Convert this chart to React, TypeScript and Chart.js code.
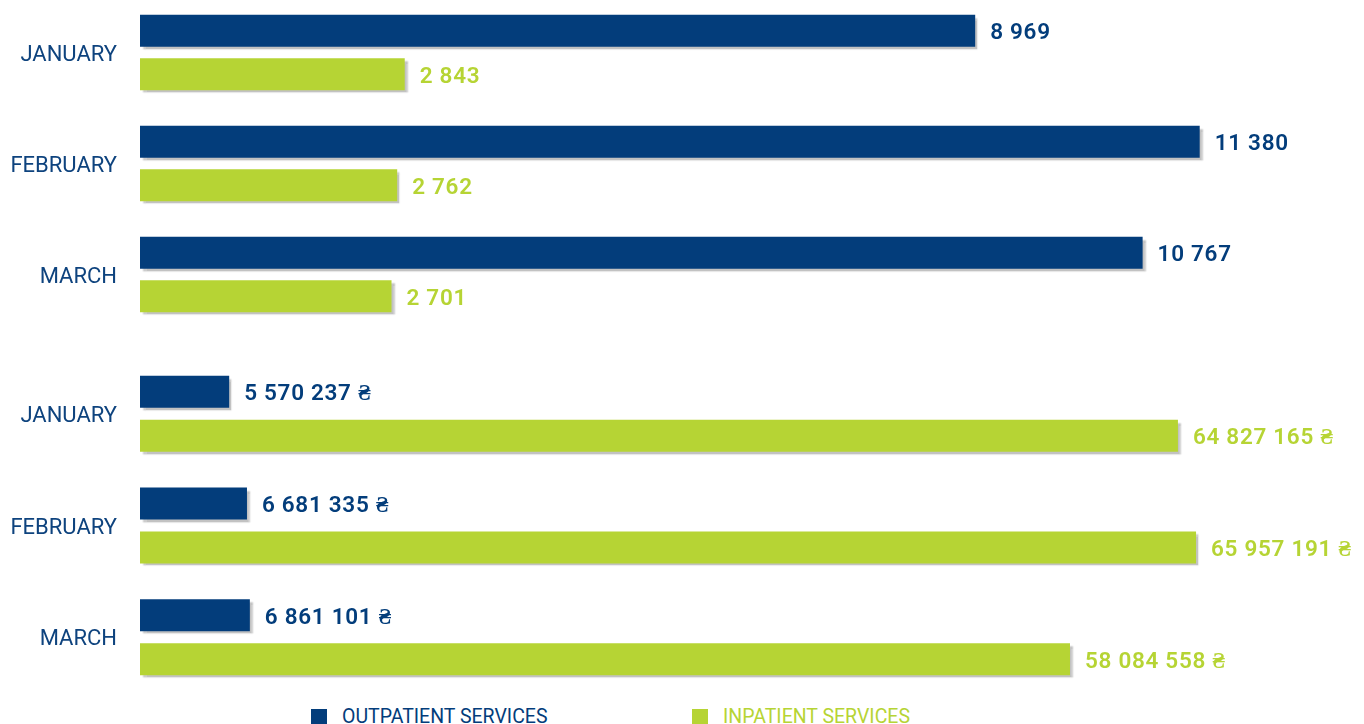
import React, { useEffect, useRef } from "react";
import { Chart, registerables } from "chart.js";

Chart.register(...registerables);

const months = ["JANUARY", "FEBRUARY", "MARCH"];
const outpatientCount = [8969, 11380, 10767];
const inpatientCount = [2843, 2762, 2701];
const outpatientSum = [5570237, 6681335, 6861101];
const inpatientSum = [64827165, 65957191, 58084558];
const legendLabels = ["OUTPATIENT SERVICES", "INPATIENT SERVICES"];

const BLUE = "#033d7b";
const GREEN = "#b6d434";
const LABEL_BLUE = "#0e437e";

const fmt = (n: number) => String(n).replace(/\B(?=(\d{3})+(?!\d))/g, " ");

const shadowPlugin = {
  id: "barShadow",
  beforeDatasetDraw(chart: any) {
    const ctx = chart.ctx;
    ctx.save();
    ctx.shadowColor = "rgba(0,0,0,0.24)";
    ctx.shadowBlur = 1.5;
    ctx.shadowOffsetX = 3;
    ctx.shadowOffsetY = 3;
  },
  afterDatasetDraw(chart: any) {
    chart.ctx.restore();
  },
};

const valueLabelPlugin = {
  id: "valueLabels",
  afterDatasetsDraw(chart: any, _args: any, opts: any) {
    const ctx = chart.ctx;
    const suffix = opts.suffix || "";
    chart.data.datasets.forEach((ds: any, di: number) => {
      const meta = chart.getDatasetMeta(di);
      meta.data.forEach((bar: any, i: number) => {
        const v = ds.data[i];
        ctx.save();
        ctx.font = "600 22.5px Roboto";
        try {
          (ctx as any).letterSpacing = "0.7px";
        } catch (e) {}
        ctx.fillStyle = ds.backgroundColor;
        ctx.textAlign = "left";
        ctx.textBaseline = "middle";
        ctx.fillText(fmt(v) + suffix, bar.x + 15, bar.y + 3);
        ctx.restore();
      });
    });
  },
};

function makeConfig(a: number[], b: number[], max: number, cp: number, bp: number, suffix: string) {
  return {
    type: "bar",
    data: {
      labels: months,
      datasets: [
        { label: legendLabels[0], data: a, backgroundColor: BLUE, categoryPercentage: cp, barPercentage: bp },
        { label: legendLabels[1], data: b, backgroundColor: GREEN, categoryPercentage: cp, barPercentage: bp },
      ],
    },
    options: {
      indexAxis: "y",
      responsive: false,
      animation: false,
      layout: { padding: { left: 0, right: 60, top: 0, bottom: 0 } },
      plugins: {
        legend: { display: false },
        tooltip: { enabled: false },
        valueLabels: { suffix },
      },
      scales: {
        x: { display: false, min: 0, max },
        y: {
          grid: { display: false, drawTicks: false },
          border: { display: false },
          ticks: {
            padding: 23,
            labelOffset: 2.5,
            color: LABEL_BLUE,
            font: { family: "Roboto", size: 22, weight: "normal" },
          },
          afterFit(scale: any) {
            scale.width = 140;
            scale.paddingTop = 0;
            scale.paddingBottom = 0;
          },
        },
      },
    },
    plugins: [shadowPlugin, valueLabelPlugin],
  } as any;
}

export default function App() {
  const ref1 = useRef<HTMLCanvasElement>(null);
  const ref2 = useRef<HTMLCanvasElement>(null);

  useEffect(() => {
    const c1 = new Chart(ref1.current!, makeConfig(outpatientCount, inpatientCount, 12500, 0.784, 0.7356, ""));
    const c2 = new Chart(ref2.current!, makeConfig(outpatientSum, inpatientSum, 72700000, 0.788, 0.7273, " ₴"));
    return () => {
      c1.destroy();
      c2.destroy();
    };
  }, []);

  const legendText = (left: number, color: string, text: string) => (
    <div
      style={{
        position: "absolute",
        left,
        top: 706,
        fontFamily: "Roboto",
        fontSize: 20,
        lineHeight: "20px",
        color,
        whiteSpace: "nowrap",
        transform: "scaleX(0.975)",
        transformOrigin: "left top",
      }}
    >
      {text}
    </div>
  );

  return (
    <div
      style={{
        position: "fixed",
        left: 0,
        top: 0,
        width: 1364,
        height: 724,
        overflow: "hidden",
        background: "#ffffff",
      }}
    >
      <canvas ref={ref1} width={1364} height={333} style={{ position: "absolute", left: 0, top: -3 }} />
      <canvas ref={ref2} width={1364} height={335} style={{ position: "absolute", left: 0, top: 358 }} />
      <div style={{ position: "absolute", left: 311, top: 709, width: 16, height: 15, background: BLUE }} />
      {legendText(342, BLUE, legendLabels[0])}
      <div style={{ position: "absolute", left: 692, top: 709, width: 16, height: 15, background: GREEN }} />
      {legendText(723, GREEN, legendLabels[1])}
    </div>
  );
}
